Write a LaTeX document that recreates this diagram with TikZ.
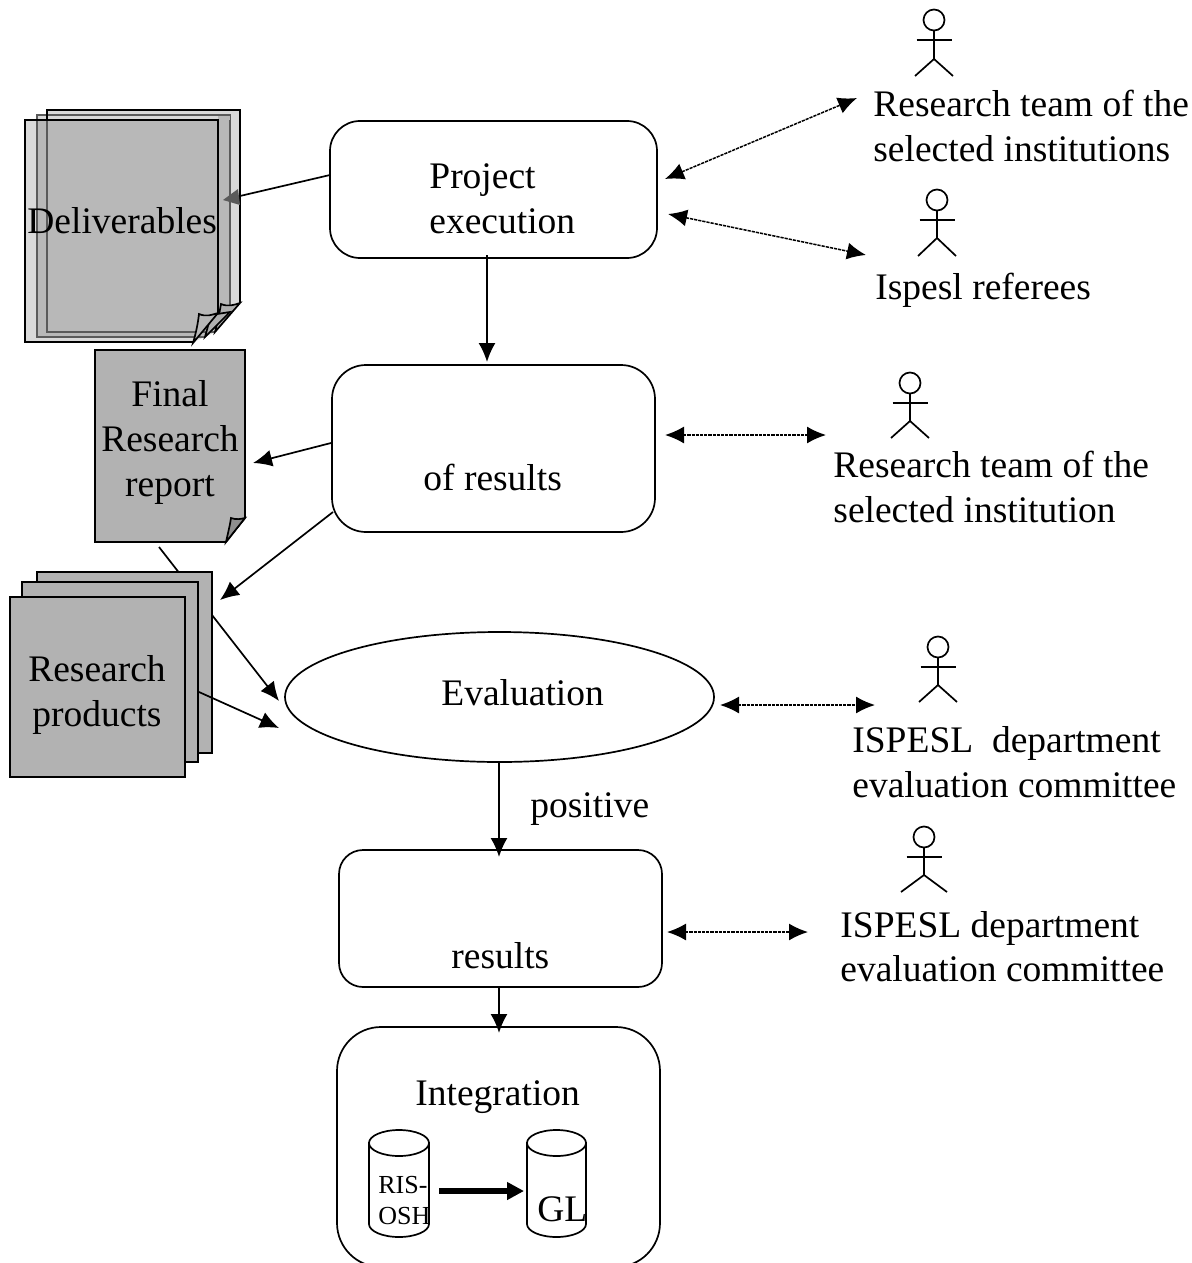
\documentclass[tikz,border=0pt]{standalone}
\usepackage{fontspec}
\setmainfont{Liberation Serif}
\usetikzlibrary{arrows.meta,shapes.geometric}
\tikzset{
  lbl/.style={inner sep=0pt,anchor=base west,yshift=-0.6pt,font=\fontsize{18.75}{22}\selectfont},
  lblc/.style={inner sep=0pt,anchor=base,yshift=-0.6pt,font=\fontsize{18.75}{22}\selectfont},
  ln/.style={line width=0.85pt,draw=black},
  flowbox/.style={ln,rectangle,inner sep=0pt,fill=white},
  arr/.style={ln,-{Latex[length=9.5pt,width=8.5pt]}},
  dbl/.style={line width=0.75pt,dash pattern=on 1.6pt off 0.5pt,{Latex[length=9.5pt,width=8.5pt]}-{Latex[length=9.5pt,width=8.5pt]}},
  sheet/.style={ln,fill=prodgray},
}
\definecolor{prodgray}{HTML}{B2B2B2}
\definecolor{dellight}{HTML}{D9D9D9}
\definecolor{delmid}{HTML}{B8B8B8}
\definecolor{delline}{HTML}{5A5A5A}
\definecolor{foldgray}{HTML}{8E8E8E}
\newcommand{\actorfig}[5]{% x, head y, hip y, feet y, half-width of feet
  \draw[ln] (#1,#2) circle (10.5);
  \draw[ln] (#1,#2+10.5) -- (#1,#3) (#1-#5,#4) -- (#1,#3) -- (#1+#5,#4);
  \draw[ln] (#1-17.5,#2+20) -- (#1+17.5,#2+20);
}
\newcommand{\cylfig}[2]{% left, right
  \pgfmathsetmacro{\cx}{(#1+#2)/2}
  \pgfmathsetmacro{\rx}{(#2-#1)/2}
  \draw[ln,fill=white] (#1,1143) -- (#1,1224) arc[start angle=180,end angle=0,x radius=\rx,y radius=13] -- (#2,1143) -- cycle;
  \draw[ln,fill=white] (\cx,1143) ellipse[x radius=\rx,y radius=13];
}
\begin{document}
\begin{tikzpicture}[x=0.5pt,y=-0.5pt]
\useasboundingbox (0,0) rectangle (1191,1263);

% --- deliverables stack
\fill[dellight] (47,110) -- (240,110) -- (240,303) -- (215,332) -- (205,337) -- (193,342) -- (25,342) -- (25,120) -- (37,120) -- (37,115) -- (47,115) -- cycle;
\fill[delmid] (37,120) -- (230,120) -- (230,312) -- (205,337) -- (37,337) -- cycle;
\draw[line width=0.85pt,draw=delline] (37,120) -- (37,115) -- (230,115) -- (230,312) -- (205,337) -- (37,337) -- (37,120);
\fill[delmid] (218,115) rectangle (230,120);
\draw[line width=0.85pt,draw=delline] (218,115) -- (230,115);
\draw[line width=0.85pt,draw=delline] (47,120) -- (47,332) -- (215,332);
\draw[ln] (47,120) -- (47,110) -- (240,110) -- (240,303);
\draw[ln] (193,342) -- (25,342) -- (25,120) -- (218,120) -- (218,313);
\draw[ln,fill=foldgray!70!white] (215,332) .. controls (218,320) and (220,310) .. (221,304) .. controls (228,307) and (234,305) .. (240,303) -- cycle;
\draw[ln,fill=foldgray!70!white] (205,337) .. controls (207,330) and (209,322) .. (211,315) -- (230,312) -- cycle;
\draw[ln,fill=delmid] (193,343) .. controls (196,333) and (198,323) .. (199,314) .. controls (206,317) and (212,315) .. (218,313) -- cycle;
\node[lbl] (deliv) at (27,232) {Deliverables};

% --- final report
\draw[sheet] (95,350) -- (245,350) -- (245,518) -- (226,542) -- (95,542) -- cycle;
\draw[ln,fill=foldgray] (226,542) .. controls (228,533) and (230,525) .. (231,518) .. controls (236,520) and (241,519) .. (245,518) -- cycle;
\node[lblc] (frep1) at (170,405) {Final};
\node[lblc] (frep2) at (170,450) {Research};
\node[lblc] (frep3) at (170,495) {report};

% --- main boxes
\node[flowbox,rounded corners=15pt,minimum width=163.5pt,minimum height=68.5pt] (exec) at (493.5,189.5) {};
\node[flowbox,rounded corners=17pt,minimum width=161.5pt,minimum height=83.5pt] (pub) at (493.5,448.5) {};
\node[flowbox,ellipse,minimum width=214.5pt,minimum height=65pt] (eval) at (499.5,697) {};
\node[flowbox,rounded corners=12pt,minimum width=161.5pt,minimum height=68.5pt] (valid) at (500.5,918.5) {};
\node[flowbox,rounded corners=22pt,minimum width=161.5pt,minimum height=120pt] (integ) at (498.5,1147) {};

% --- line passing behind the research products
\coordinate (repfoot) at (159,547);
\coordinate (evalin1) at (279,701);
\draw[arr] (repfoot) -- (evalin1);

% --- research products
\draw[sheet] (37,572) rectangle (212,753);
\draw[sheet] (22,582) rectangle (198,762);
\draw[sheet] (10,597) rectangle (185,777);
\node[lblc] (prod1) at (97,680) {Research};
\node[lblc] (prod2) at (97,725) {products};

% --- box labels
\node[lbl] (t1) at (429,187) {Project};
\node[lbl] (t2) at (429,232) {execution};
\node[lbl] (t3) at (423,489) {of results};
\node[lbl] (t4) at (441,704) {Evaluation};
\node[lbl] (t5) at (530,816) {positive};
\node[lbl] (t6) at (451,967) {results};
\node[lbl] (t7) at (415,1104) {Integration};

% --- cylinders
\cylfig{369}{429}
\cylfig{527}{586}
\node[lbl,font=\fontsize{13}{16}\selectfont] (ris1) at (378,1192) {RIS-};
\node[lbl,font=\fontsize{13}{16}\selectfont] (ris2) at (378,1223) {OSH};
\node[lbl] (gl) at (537,1220) {GL};
\coordinate (thick1) at (439,1191);
\coordinate (thick2) at (524,1191);
\draw[line width=3pt,-{Triangle[length=8.5pt,width=8.5pt]}] (thick1) -- (thick2);

% --- flow arrows
\coordinate (a1s) at (487,255); \coordinate (a1e) at (487,362);
\draw[arr] (a1s) -- (a1e);
\coordinate (a2s) at (499,762); \coordinate (a2e) at (499,857);
\draw[arr] (a2s) -- (a2e);
\coordinate (a3s) at (499,988); \coordinate (a3e) at (499,1033);
\draw[arr] (a3s) -- (a3e);
\coordinate (a4s) at (331,443); \coordinate (a4e) at (253,463);
\draw[arr] (a4s) -- (a4e);
\coordinate (a5s) at (333,512); \coordinate (a5e) at (220,600);
\draw[arr] (a5s) -- (a5e);
\coordinate (a6s) at (199,692); \coordinate (a6e) at (279,728);
\draw[arr] (a6s) -- (a6e);
\coordinate (a7s) at (330,175); \coordinate (a7m) at (240,196);
\draw[ln] (a7s) -- (a7m);
\fill[delline] (223,200) -- (238,189) -- (240,205) -- cycle;

% --- double arrows
\coordinate (d1a) at (665,179); \coordinate (d1b) at (857,98);
\draw[dbl] (d1a) -- (d1b);
\coordinate (d2a) at (668,214); \coordinate (d2b) at (866,255);
\draw[dbl] (d2a) -- (d2b);
\coordinate (d3a) at (665,435); \coordinate (d3b) at (826,435);
\draw[dbl] (d3a) -- (d3b);
\coordinate (d4a) at (720,705); \coordinate (d4b) at (875,705);
\draw[dbl] (d4a) -- (d4b);
\coordinate (d5a) at (667,932); \coordinate (d5b) at (808,932);
\draw[dbl] (d5a) -- (d5b);

% --- actors
\actorfig{934}{20}{59}{76}{19}
\actorfig{937}{200}{238}{256}{19}
\actorfig{910}{383}{421}{438}{19}
\actorfig{938}{647}{685}{702}{19}
\actorfig{924}{837}{875}{892}{23}

% --- actor labels
\node[lbl] (r1) at (873,115) {Research team of the};
\node[lbl] (r2) at (873,160) {selected institutions};
\node[lbl] (r3) at (875,298) {Ispesl referees};
\node[lbl] (r4) at (833,476) {Research team of the};
\node[lbl] (r5) at (833,521) {selected institution};
\node[lbl] (r6) at (852,751) {ISPESL\ \ department};
\node[lbl] (r7) at (852,796) {evaluation committee};
\node[lbl] (r8) at (840,936) {ISPESL department};
\node[lbl] (r9) at (840,980) {evaluation committee};
\end{tikzpicture}
\end{document}
